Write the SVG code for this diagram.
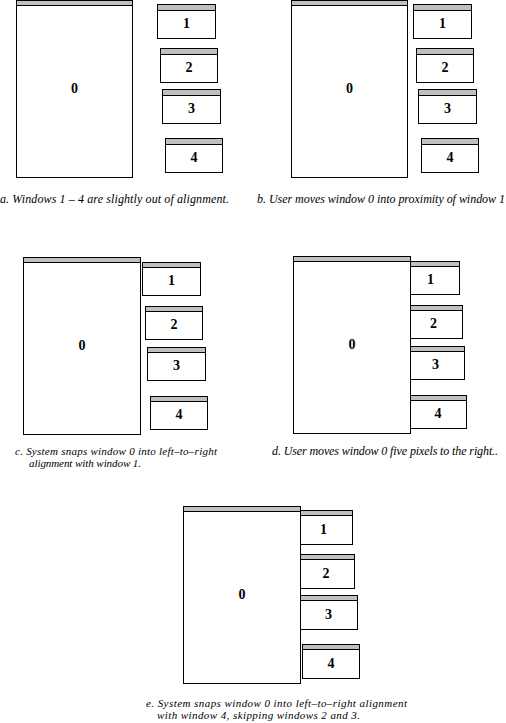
<svg xmlns="http://www.w3.org/2000/svg" width="506" height="723" viewBox="0 0 506 723">
<style>
.body{fill:#fff;stroke:#000;stroke-width:1}
.bar{fill:#c0c0c0;stroke:#000;stroke-width:1}
.num{font-family:"Liberation Serif",serif;font-weight:bold;font-size:14px;text-anchor:middle}
.cap{font-family:"Liberation Serif",serif;font-style:italic;font-size:12px}
.cap2{font-family:"Liberation Serif",serif;font-style:italic;font-size:11px}
</style>
<rect width="506" height="723" fill="#fff"/>
<g id="panel-a">
  <g id="a-w1"><rect class="body" x="157.5" y="4.5" width="58" height="34"/><rect class="bar" x="157.5" y="4.5" width="58" height="6"/><text class="num" x="186.5" y="28">1</text></g>
  <g id="a-w2"><rect class="body" x="160.5" y="48.5" width="57" height="34"/><rect class="bar" x="160.5" y="48.5" width="57" height="6"/><text class="num" x="189" y="72">2</text></g>
  <g id="a-w3"><rect class="body" x="162.5" y="89.5" width="58" height="34"/><rect class="bar" x="162.5" y="89.5" width="58" height="6"/><text class="num" x="191.5" y="113">3</text></g>
  <g id="a-w4"><rect class="body" x="165.5" y="138.5" width="57" height="34"/><rect class="bar" x="165.5" y="138.5" width="57" height="6"/><text class="num" x="194" y="162">4</text></g>
  <g id="a-w0"><rect class="body" x="16.5" y="0.5" width="116" height="177"/><rect class="bar" x="16.5" y="0.5" width="116" height="5"/><text class="num" x="74.5" y="93">0</text></g>
  <text class="cap" x="0" y="203" textLength="229">a. Windows 1 – 4 are slightly out of alignment.</text>
</g>
<g id="panel-b">
  <g id="b-w1"><rect class="body" x="413.5" y="4.5" width="58" height="34"/><rect class="bar" x="413.5" y="4.5" width="58" height="6"/><text class="num" x="442.5" y="28">1</text></g>
  <g id="b-w2"><rect class="body" x="416.5" y="48.5" width="57" height="34"/><rect class="bar" x="416.5" y="48.5" width="57" height="6"/><text class="num" x="445" y="72">2</text></g>
  <g id="b-w3"><rect class="body" x="418.5" y="89.5" width="58" height="34"/><rect class="bar" x="418.5" y="89.5" width="58" height="6"/><text class="num" x="447.5" y="113">3</text></g>
  <g id="b-w4"><rect class="body" x="421.5" y="138.5" width="57" height="34"/><rect class="bar" x="421.5" y="138.5" width="57" height="6"/><text class="num" x="450" y="162">4</text></g>
  <g id="b-w0"><rect class="body" x="291.5" y="0.5" width="116" height="177"/><rect class="bar" x="291.5" y="0.5" width="116" height="5"/><text class="num" x="349.5" y="93">0</text></g>
  <text class="cap" x="257" y="203" textLength="248">b. User moves window 0 into proximity of window 1</text>
</g>
<g id="panel-c">
  <g id="c-w1"><rect class="body" x="142.5" y="262.5" width="58" height="33"/><rect class="bar" x="142.5" y="262.5" width="58" height="5"/><text class="num" x="171.5" y="285">1</text></g>
  <g id="c-w2"><rect class="body" x="145.5" y="306.5" width="57" height="33"/><rect class="bar" x="145.5" y="306.5" width="57" height="5"/><text class="num" x="174" y="329">2</text></g>
  <g id="c-w3"><rect class="body" x="147.5" y="347.5" width="58" height="33"/><rect class="bar" x="147.5" y="347.5" width="58" height="5"/><text class="num" x="176.5" y="370">3</text></g>
  <g id="c-w4"><rect class="body" x="150.5" y="396.5" width="57" height="33"/><rect class="bar" x="150.5" y="396.5" width="57" height="5"/><text class="num" x="179" y="419">4</text></g>
  <g id="c-w0"><rect class="body" x="23.5" y="257.5" width="117" height="177"/><rect class="bar" x="23.5" y="257.5" width="117" height="5"/><text class="num" x="82" y="350">0</text></g>
  <text class="cap2" x="15" y="455" textLength="202">c. System snaps window 0 into left–to–right</text>
  <text class="cap2" x="29" y="467" textLength="112">alignment with window 1.</text>
</g>
<g id="panel-d">
  <g id="d-w1"><rect class="body" x="401.5" y="261.5" width="58" height="33"/><rect class="bar" x="401.5" y="261.5" width="58" height="5"/><text class="num" x="430.5" y="284">1</text></g>
  <g id="d-w2"><rect class="body" x="404.5" y="305.5" width="58" height="33"/><rect class="bar" x="404.5" y="305.5" width="58" height="5"/><text class="num" x="433.5" y="328">2</text></g>
  <g id="d-w3"><rect class="body" x="406.5" y="346.5" width="58" height="33"/><rect class="bar" x="406.5" y="346.5" width="58" height="5"/><text class="num" x="435.5" y="369">3</text></g>
  <g id="d-w4"><rect class="body" x="409.5" y="395.5" width="57" height="33"/><rect class="bar" x="409.5" y="395.5" width="57" height="5"/><text class="num" x="438" y="418">4</text></g>
  <g id="d-w0"><rect class="body" x="293.5" y="256.5" width="117" height="177"/><rect class="bar" x="293.5" y="256.5" width="117" height="5"/><text class="num" x="352" y="349">0</text></g>
  <text class="cap" x="272" y="455" textLength="226">d. User moves window 0 five pixels to the right..</text>
</g>
<g id="panel-e">
  <g id="e-w1"><rect class="body" x="294.5" y="510.5" width="58" height="34"/><rect class="bar" x="294.5" y="510.5" width="58" height="5"/><text class="num" x="323.5" y="534">1</text></g>
  <g id="e-w2"><rect class="body" x="297.5" y="554.5" width="57" height="34"/><rect class="bar" x="297.5" y="554.5" width="57" height="5"/><text class="num" x="326" y="578">2</text></g>
  <g id="e-w3"><rect class="body" x="299.5" y="595.5" width="58" height="34"/><rect class="bar" x="299.5" y="595.5" width="58" height="5"/><text class="num" x="328.5" y="619">3</text></g>
  <g id="e-w4"><rect class="body" x="302.5" y="644.5" width="57" height="34"/><rect class="bar" x="302.5" y="644.5" width="57" height="5"/><text class="num" x="331" y="668">4</text></g>
  <g id="e-w0"><rect class="body" x="183.5" y="506.5" width="117" height="177"/><rect class="bar" x="183.5" y="506.5" width="117" height="5"/><text class="num" x="242" y="599">0</text></g>
  <text class="cap2" x="146" y="707" textLength="261">e. System snaps window 0 into left–to–right alignment</text>
  <text class="cap2" x="157" y="719" textLength="203">with window 4, skipping windows 2 and 3.</text>
</g>
<g id="connectors"/>
</svg>
